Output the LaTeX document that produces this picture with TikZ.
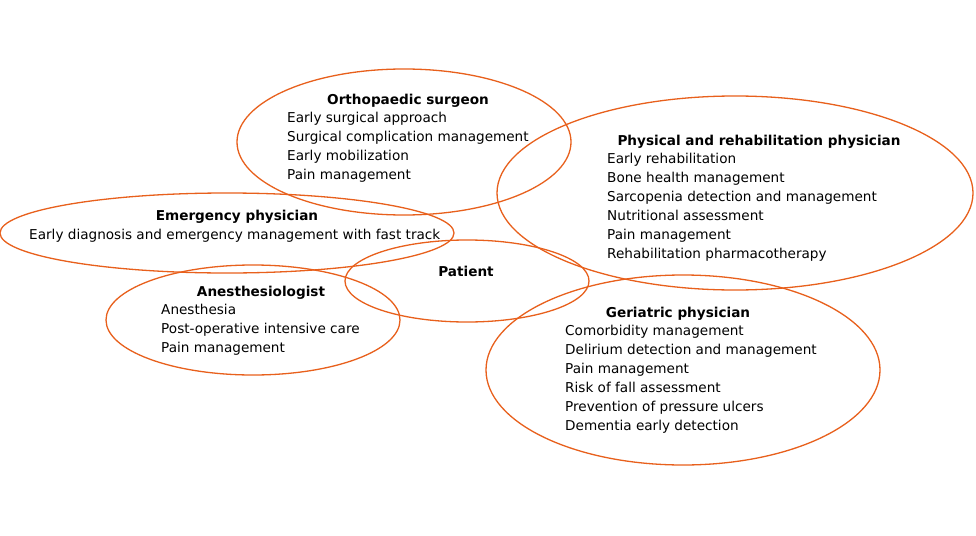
\documentclass[tikz,border=0pt]{standalone}
\usepackage{fontspec}
\setmainfont{DejaVu Sans}
\definecolor{org}{RGB}{232,96,28}
\begin{document}
\begin{tikzpicture}[x=1pt,y=-1pt,
  ell/.style={draw=org,line width=1.3pt},
  ttl/.style={font=\fontsize{13.6}{16}\selectfont\bfseries,anchor=base,inner sep=0,yshift=-5pt},
  itm/.style={font=\fontsize{13.6}{16}\selectfont,anchor=base west,inner sep=0,yshift=-5pt}]
\fill[white] (0,0) rectangle (976,535);
\useasboundingbox (0,0) rectangle (976,535);
\draw[ell] (404,142) ellipse [x radius=167,y radius=73];
\draw[ell] (735,193) ellipse [x radius=238,y radius=97];
\draw[ell] (227,233) ellipse [x radius=227,y radius=40];
\draw[ell] (467,281) ellipse [x radius=122,y radius=41];
\draw[ell] (253,320) ellipse [x radius=147,y radius=55];
\draw[ell] (683,370) ellipse [x radius=197,y radius=95];
\node[ttl] (o) at (408,99) {Orthopaedic surgeon};
\foreach \t [count=\i] in {Early surgical approach,Surgical complication management,Early mobilization,Pain management}
  \node[itm] (o\i) at (287,{98+19*\i}) {\t};
\node[ttl] (p) at (759,140) {Physical and rehabilitation physician};
\foreach \t [count=\i] in {Early rehabilitation,Bone health management,Sarcopenia detection and management,Nutritional assessment,Pain management,Rehabilitation pharmacotherapy}
  \node[itm] (p\i) at (607,{139+19*\i}) {\t};
\node[ttl] (e) at (237,215) {Emergency physician};
\node[itm] (e1) at (29,234) {Early diagnosis and emergency management with fast track};
\node[ttl] (pt) at (466,271) {Patient};
\node[ttl] (a) at (261,291) {Anesthesiologist};
\foreach \t [count=\i] in {Anesthesia,Post-operative intensive care,Pain management}
  \node[itm] (a\i) at (161,{291+18.7*\i}) {\t};
\node[ttl] (g) at (678,312) {Geriatric physician};
\foreach \t [count=\i] in {Comorbidity management,Delirium detection and management,Pain management,Risk of fall assessment,Prevention of pressure ulcers,Dementia early detection}
  \node[itm] (g\i) at (565,{311+19*\i}) {\t};
\end{tikzpicture}
\end{document}
